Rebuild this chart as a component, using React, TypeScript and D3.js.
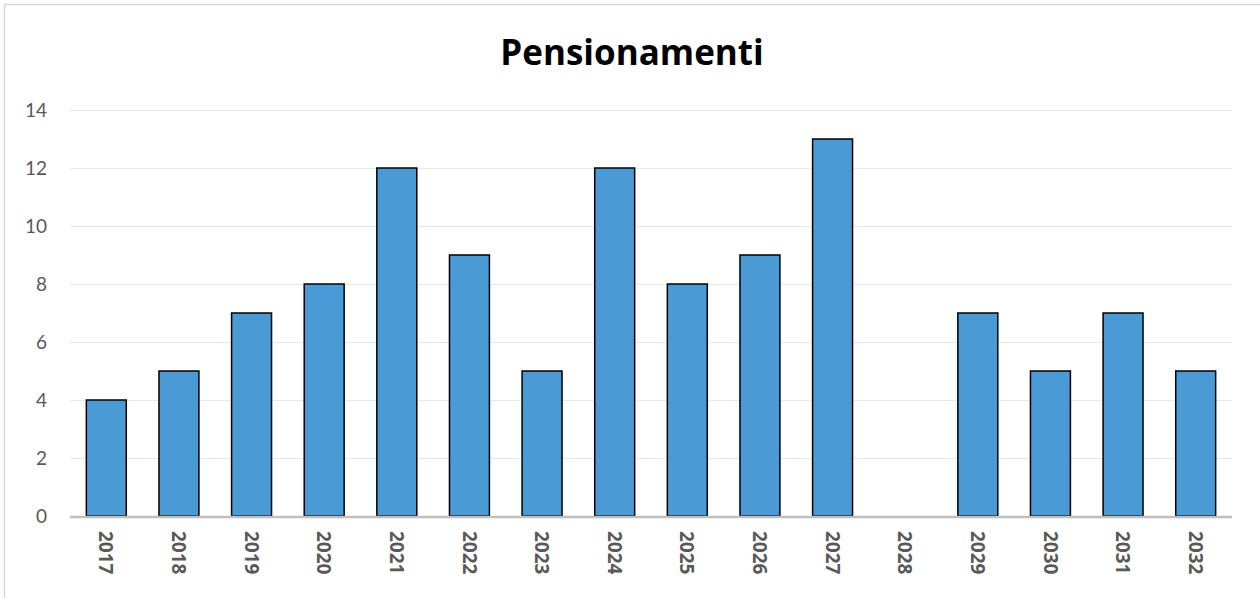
import React, { useEffect, useRef } from "react";
import * as d3 from "d3";

const years = ["2017", "2018", "2019", "2020", "2021", "2022", "2023", "2024", "2025", "2026", "2027", "2028", "2029", "2030", "2031", "2032"];
const retirements = [4, 5, 7, 8, 12, 9, 5, 12, 8, 9, 13, 0, 7, 5, 7, 5];
const yTicks = [0, 2, 4, 6, 8, 10, 12, 14];
const chartTitle = "Pensionamenti";

export default function App() {
  const svgRef = useRef<SVGSVGElement>(null);

  useEffect(() => {
    const width = 1260;
    const height = 598;
    const margin = { top: 110, bottom: 82, left: 70, right: 28 };

    const svg = d3.select(svgRef.current);
    svg.selectAll("*").remove();

    // outer frame
    svg.append("rect")
      .attr("x", 4.5)
      .attr("y", 4.5)
      .attr("width", width + 10)
      .attr("height", height + 10)
      .attr("fill", "#fff")
      .attr("stroke", "#d9d9d9")
      .attr("stroke-width", 1.5);

    const x = d3.scaleBand()
      .domain(years)
      .range([margin.left, width - margin.right])
      .paddingInner(0.45)
      .paddingOuter(0.225);

    const y = d3.scaleLinear()
      .domain([0, 14])
      .range([height - margin.bottom, margin.top]);

    // gridlines
    svg.append("g")
      .selectAll("line")
      .data(yTicks.filter(d => d > 0))
      .join("line")
      .attr("x1", margin.left)
      .attr("x2", width - margin.right)
      .attr("y1", d => y(d) + 0.5)
      .attr("y2", d => y(d) + 0.5)
      .attr("stroke", "#e8e8e8")
      .attr("stroke-width", 1);

    // y labels
    svg.append("g")
      .selectAll("text")
      .data(yTicks)
      .join("text")
      .attr("x", 47)
      .attr("y", d => y(d))
      .attr("dy", "0.36em")
      .attr("text-anchor", "end")
      .attr("font-family", "Lato, 'Open Sans', sans-serif")
      .attr("font-size", 19)
      .attr("fill", "#595959")
      .text(d => d);

    // bars
    svg.append("g")
      .selectAll("rect")
      .data(retirements.map((v, i) => ({ year: years[i], v })))
      .join("rect")
      .attr("x", d => x(d.year)!)
      .attr("y", d => y(d.v))
      .attr("width", x.bandwidth())
      .attr("height", d => y(0) - y(d.v))
      .attr("fill", "#4a9bd5")
      .attr("stroke", d => d.v > 0 ? "#000" : "none")
      .attr("stroke-width", 1.5);

    // baseline
    svg.append("line")
      .attr("x1", margin.left)
      .attr("x2", width - margin.right)
      .attr("y1", y(0) + 1)
      .attr("y2", y(0) + 1)
      .attr("stroke", "#bfbfbf")
      .attr("stroke-width", 2.5);

    // x labels, rotated
    svg.append("g")
      .selectAll("text")
      .data(years)
      .join("text")
      .attr("transform", d => `translate(${x(d)! + x.bandwidth() / 2},${y(0) + 15}) rotate(90)`)
      .attr("dy", "0.36em")
      .attr("text-anchor", "start")
      .attr("font-family", "'Open Sans', sans-serif")
      .attr("font-weight", "bold")
      .attr("font-size", 19)
      .attr("fill", "#595959")
      .text(d => d);

    svg.append("text")
      .attr("x", 632)
      .attr("y", 65)
      .attr("text-anchor", "middle")
      .attr("font-family", "'Open Sans', sans-serif")
      .attr("font-weight", "bold")
      .attr("font-size", 35)
      .attr("fill", "#000")
      .text(chartTitle);
  }, []);

  return (
    <svg
      ref={svgRef}
      width={1260}
      height={598}
      style={{ position: "absolute", left: 0, top: 0, background: "#fff" }}
    />
  );
}
